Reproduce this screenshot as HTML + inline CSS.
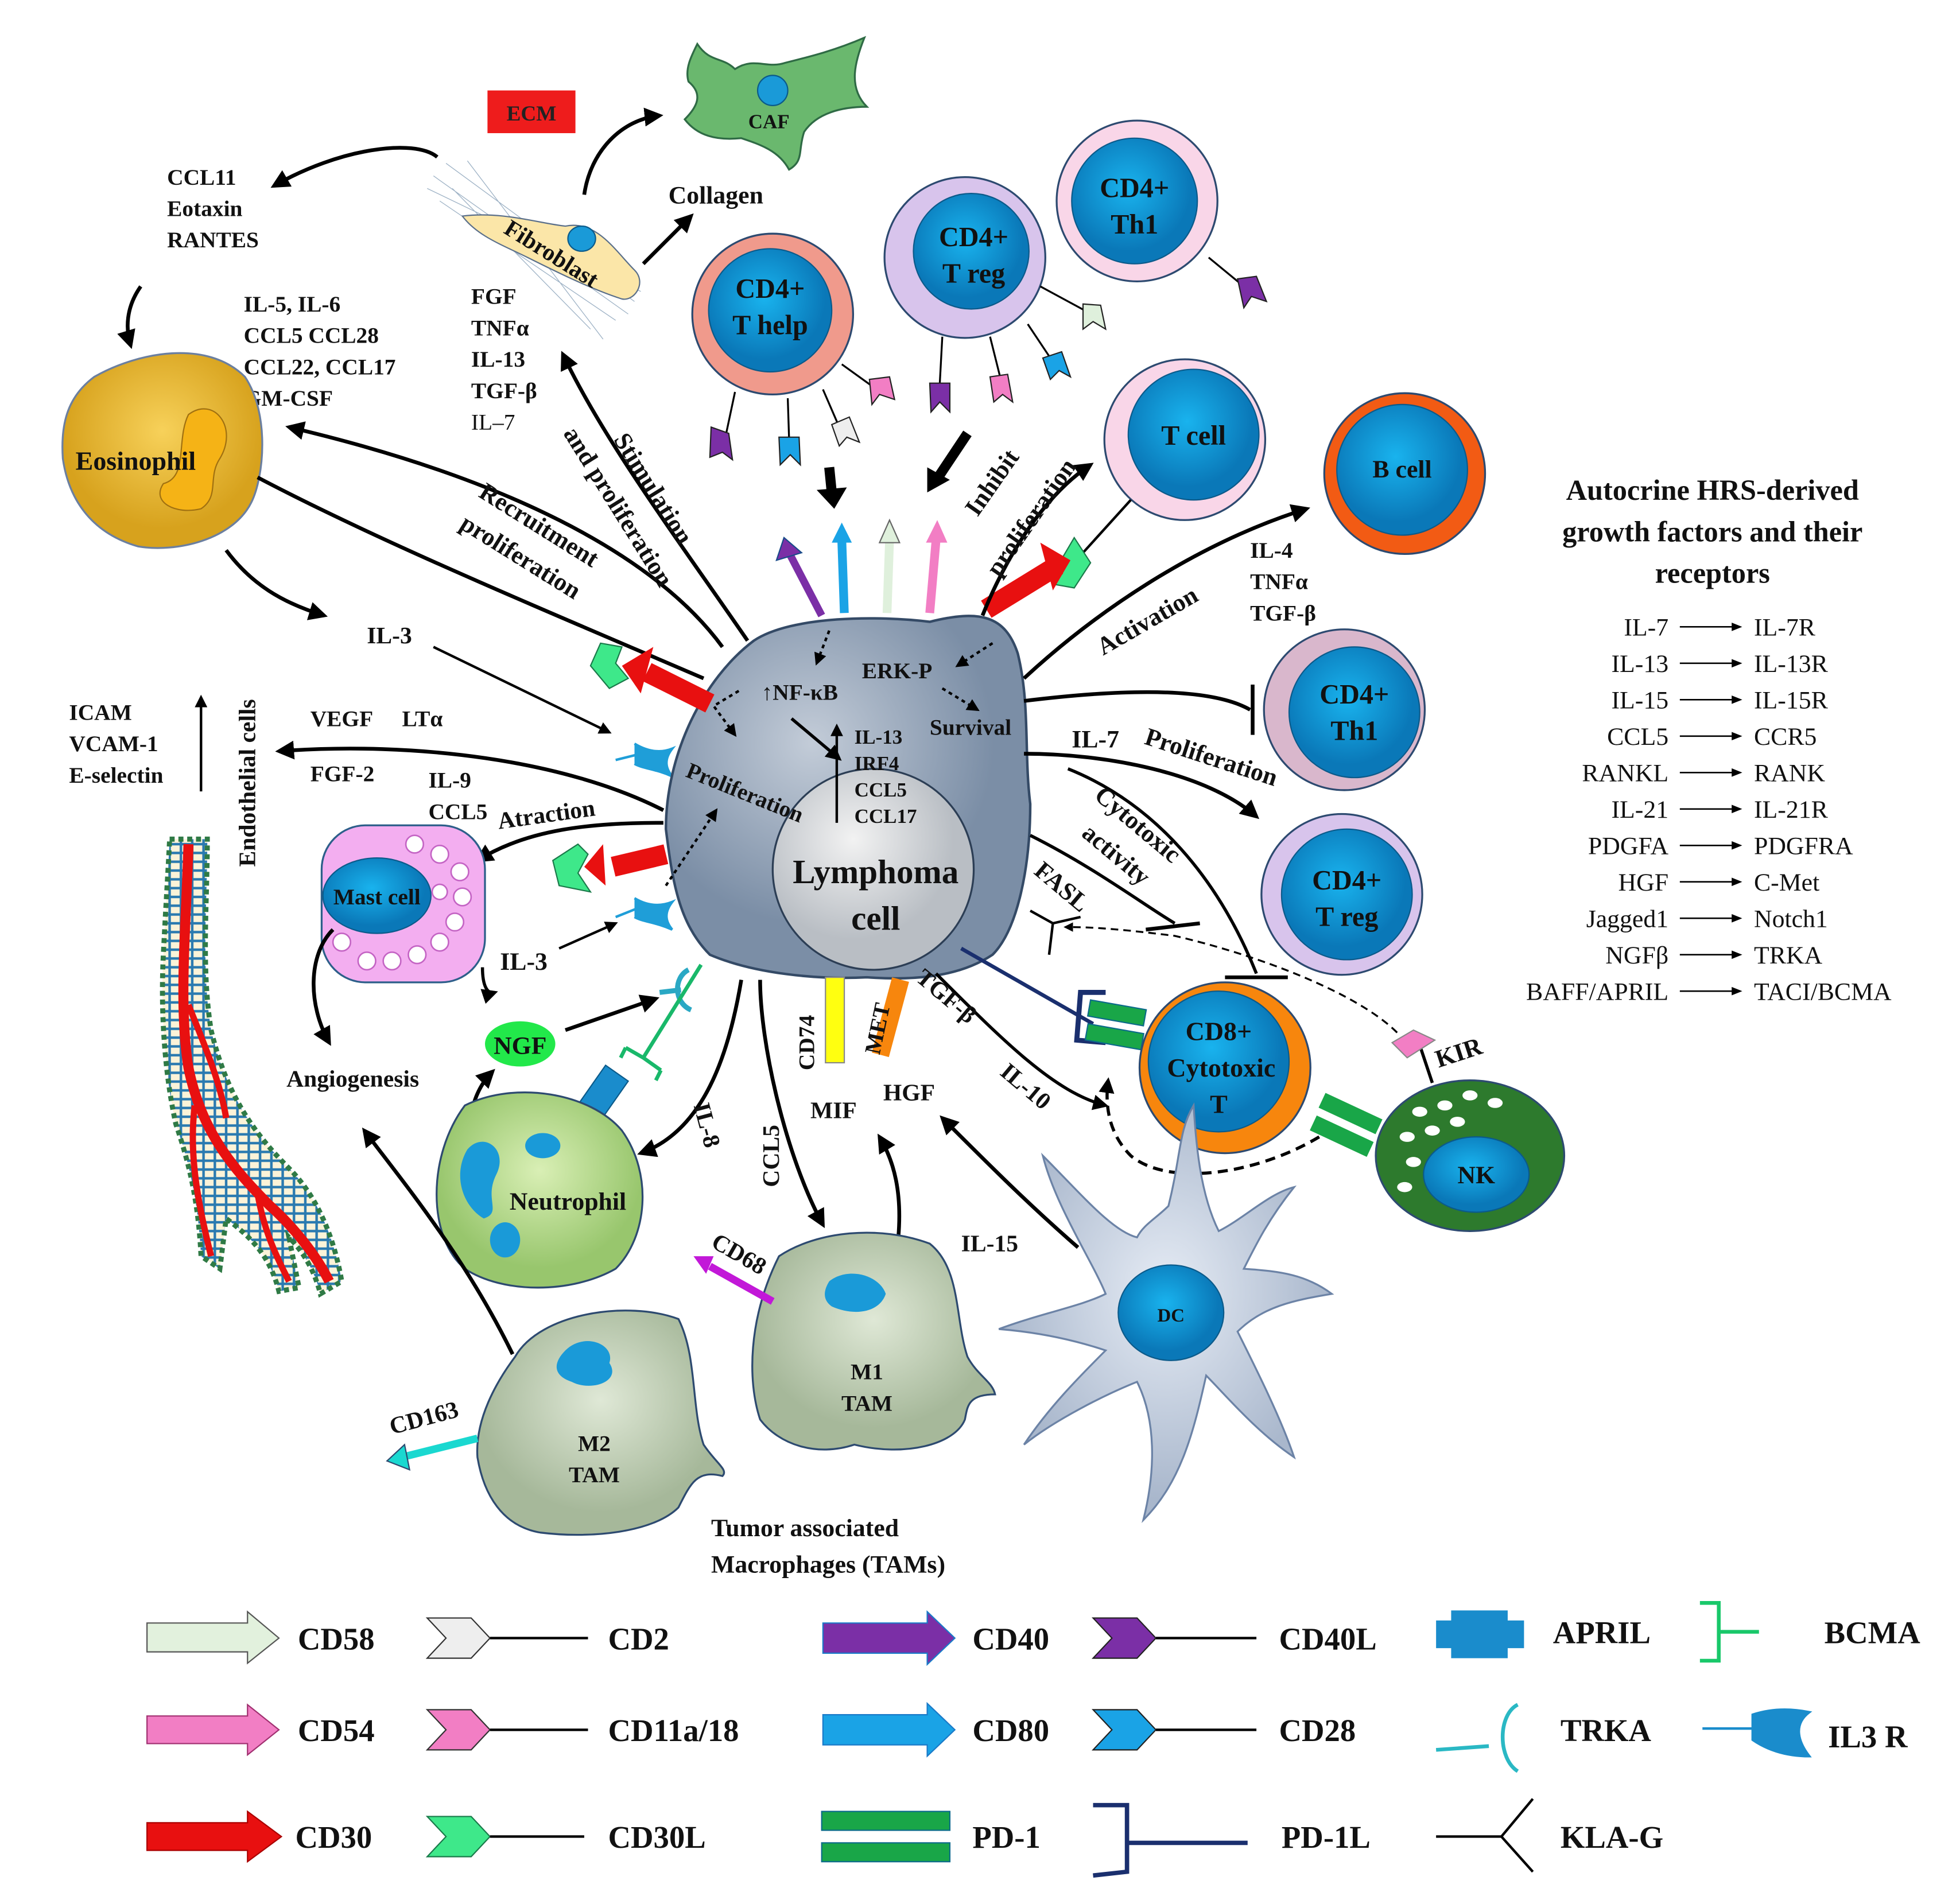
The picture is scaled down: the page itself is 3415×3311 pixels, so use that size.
<!DOCTYPE html>
<html><head><meta charset="utf-8"><style>
html,body{margin:0;padding:0;background:#fff}
svg{display:block}
text{font-family:"Liberation Serif",serif;font-weight:bold;fill:#111}
.n{font-weight:normal}
</style></head><body>
<svg width="3415" height="3311" viewBox="0 0 1560 1512.5" preserveAspectRatio="none" xmlns="http://www.w3.org/2000/svg">
<defs>
<marker id="ah" viewBox="0 0 10 10" refX="8" refY="5" markerWidth="5" markerHeight="5" orient="auto"><path d="M0,0L10,5L0,10z" fill="#000"/></marker>
<marker id="as" viewBox="0 0 10 10" refX="8" refY="5" markerWidth="7" markerHeight="7" orient="auto"><path d="M0,1L10,5L0,9z" fill="#000"/></marker>
<radialGradient id="lym" cx="0.4" cy="0.35"><stop offset="0" stop-color="#c3ccd8"/><stop offset="1" stop-color="#7b8ea6"/></radialGradient>
<radialGradient id="nuc" cx="0.4" cy="0.35"><stop offset="0" stop-color="#f2f2f2"/><stop offset="1" stop-color="#b9bec4"/></radialGradient>
<radialGradient id="blu" cx="0.45" cy="0.4"><stop offset="0" stop-color="#19b3ee"/><stop offset="1" stop-color="#0a78b8"/></radialGradient>
<radialGradient id="eos" cx="0.5" cy="0.4"><stop offset="0" stop-color="#f7d15a"/><stop offset="1" stop-color="#d7a21d"/></radialGradient>
<radialGradient id="neu" cx="0.5" cy="0.4"><stop offset="0" stop-color="#d9efb5"/><stop offset="1" stop-color="#98c66d"/></radialGradient>
<radialGradient id="mac" cx="0.5" cy="0.4"><stop offset="0" stop-color="#dfe8d6"/><stop offset="1" stop-color="#a6b89a"/></radialGradient>
<radialGradient id="dc" cx="0.5" cy="0.45"><stop offset="0" stop-color="#e6ecf5"/><stop offset="1" stop-color="#a9b7cc"/></radialGradient>
<pattern id="cells" width="9" height="7" patternUnits="userSpaceOnUse"><rect width="9" height="7" fill="#fbf3d8"/><rect x="0.5" y="0.5" width="8" height="6" fill="none" stroke="#2a7ab0" stroke-width="1"/></pattern>
</defs>

<!-- ECM & CAF & Fibroblast -->
<rect x="388" y="72" width="70" height="34" fill="#ee1c1c"/>
<text x="423" y="96" text-anchor="middle" font-size="17" style="fill:#222">ECM</text>
<path d="M555,35 C565,50 575,45 585,55 C600,45 610,55 625,50 C645,45 665,40 688,30 C680,50 675,70 690,85 C670,85 650,90 640,105 C635,120 640,128 628,135 C620,120 605,115 590,110 C570,112 555,108 545,95 C555,85 560,75 548,65 C545,55 550,45 555,35z" fill="#6ab86e" stroke="#2f6b45" stroke-width="1.5"/>
<circle cx="615" cy="72" r="12" fill="#1a9ad8" stroke="#0b5a8a"/>
<text x="612" y="102" text-anchor="middle" font-size="16">CAF</text>
<g stroke="#9fb3c6" stroke-width="0.6">
<path d="M345,140 L500,250 M355,130 L505,240 M360,150 L470,262 M350,160 L490,255 M372,128 L480,270 M340,150 L510,232"/>
</g>
<path d="M368,172 C400,168 430,178 450,180 C475,175 490,200 505,215 C515,225 505,240 495,238 C470,230 440,215 420,205 C400,195 380,188 368,172z" fill="#fbe6a8" stroke="#5a6f8a"/>
<ellipse cx="463" cy="190" rx="11" ry="10" fill="#1a9ad8" stroke="#0b5a8a"/>
<text x="400" y="185" font-size="19" transform="rotate(32 400 185)">Fibroblast</text>
<path d="M465,155 C470,120 495,95 525,92" fill="none" stroke="#000" stroke-width="3" marker-end="url(#ah)"/>
<path d="M512,210 L550,172" stroke="#000" stroke-width="3" marker-end="url(#ah)"/>
<text x="532" y="162" font-size="20">Collagen</text>
<path d="M348,125 C330,110 270,118 218,148" fill="none" stroke="#000" stroke-width="3" marker-end="url(#ah)"/>
<text x="133" y="147" font-size="18">CCL11</text>
<text x="133" y="172" font-size="18">Eotaxin</text>
<text x="133" y="197" font-size="18">RANTES</text>
<path d="M112,228 C100,245 100,262 104,275" fill="none" stroke="#000" stroke-width="3" marker-end="url(#ah)"/>
<text x="194" y="248" font-size="18">IL-5, IL-6</text>
<text x="194" y="273" font-size="18">CCL5 CCL28</text>
<text x="194" y="298" font-size="18">CCL22, CCL17</text>
<text x="194" y="323" font-size="18">GM-CSF</text>
<text x="375" y="242" font-size="18">FGF</text>
<text x="375" y="267" font-size="18">TNFα</text>
<text x="375" y="292" font-size="18">IL-13</text>
<text x="375" y="317" font-size="18">TGF-β</text>
<text x="375" y="342" font-size="18" style="font-weight:normal">IL–7</text>

<!-- Eosinophil -->
<path d="M75,300 C110,280 165,270 195,300 C215,330 210,380 200,400 C185,430 140,440 110,435 C75,425 55,400 50,365 C48,335 55,315 75,300z" fill="url(#eos)" stroke="#6b7fa0" stroke-width="1.5"/>
<path d="M150,330 C170,315 190,340 175,365 C165,380 175,395 160,405 C140,410 120,400 130,385 C150,380 140,350 150,330z" fill="#f5b316" stroke="#a07010"/>
<text x="108" y="374" text-anchor="middle" font-size="21">Eosinophil</text>

<!-- arrows from lymphoma -->
<path d="M575,515 C520,440 400,380 230,340" fill="none" stroke="#000" stroke-width="3" marker-end="url(#ah)"/>
<path d="M595,510 C540,430 480,350 448,282" fill="none" stroke="#000" stroke-width="3" marker-end="url(#ah)"/>
<path d="M205,380 C300,430 420,480 560,540" fill="none" stroke="#000" stroke-width="3"/>
<text x="380" y="395" font-size="20" transform="rotate(32 380 395)">Recruitment</text>
<text x="365" y="420" font-size="20" transform="rotate(32 365 420)">proliferation</text>
<text x="488" y="350" font-size="20" transform="rotate(58 488 350)">Stimulation</text>
<text x="448" y="345" font-size="20" transform="rotate(58 448 345)">and proliferation</text>
<path d="M180,438 C200,465 225,480 258,490" fill="none" stroke="#000" stroke-width="3" marker-end="url(#ah)"/>
<text x="292" y="512" font-size="19">IL-3</text>
<path d="M345,515 L485,583" stroke="#000" stroke-width="2" marker-end="url(#ah)"/>

<!-- endothelial -->
<text x="55" y="573" font-size="18">ICAM</text>
<text x="55" y="598" font-size="18">VCAM-1</text>
<text x="55" y="623" font-size="18">E-selectin</text>
<path d="M160,630 L160,555" stroke="#000" stroke-width="2" marker-end="url(#ah)"/>
<text x="203" y="690" font-size="19" transform="rotate(-90 203 690)">Endothelial cells</text>
<path d="M135,668 L165,668 C165,720 160,770 168,820 C180,870 200,900 230,930 C250,950 265,980 272,1020 L255,1030 C250,1010 240,995 230,985 L238,1025 L222,1028 C215,1000 200,985 180,970 L175,1010 L160,1000 C158,960 152,930 140,895 C130,850 128,800 130,760 C132,720 134,690 135,668z" fill="url(#cells)" stroke="#2f7a45" stroke-width="4" stroke-dasharray="4 3"/>
<path d="M150,672 C148,740 142,800 150,850 C160,900 185,930 215,960 C235,978 252,1000 262,1020" fill="none" stroke="#e81010" stroke-width="8"/>
<path d="M150,800 C162,830 175,860 180,890 M155,880 C150,920 158,960 168,1000 M205,950 C210,980 220,1000 230,1020" fill="none" stroke="#e81010" stroke-width="5"/>
<text x="247" y="578" font-size="18">VEGF</text><text x="320" y="578" font-size="18">LTα</text>
<text x="247" y="622" font-size="18">FGF-2</text>
<path d="M528,645 C450,605 330,590 222,598" fill="none" stroke="#000" stroke-width="3" marker-end="url(#ah)"/>
<text x="341" y="627" font-size="18">IL-9</text>
<text x="341" y="652" font-size="18">CCL5</text>
<text x="397" y="660" font-size="19" transform="rotate(-8 397 660)">Atraction</text>
<path d="M528,655 C470,655 420,660 380,685" fill="none" stroke="#000" stroke-width="3" marker-end="url(#ah)"/>

<!-- Mast cell -->
<rect x="256" y="657" width="130" height="125" rx="35" fill="#f3aef0" stroke="#2d5f8a" stroke-width="1.5"/>
<g fill="#fff" stroke="#c464c4" stroke-width="1.2">
<circle cx="330" cy="672" r="7"/><circle cx="350" cy="680" r="7"/><circle cx="366" cy="694" r="7"/><circle cx="368" cy="714" r="7"/><circle cx="362" cy="734" r="7"/><circle cx="350" cy="750" r="7"/><circle cx="332" cy="760" r="7"/><circle cx="312" cy="765" r="7"/><circle cx="292" cy="765" r="7"/><circle cx="272" cy="750" r="7"/><circle cx="350" cy="710" r="6"/>
</g>
<ellipse cx="300" cy="713" rx="43" ry="30" fill="url(#blu)" stroke="#0b5a8a"/>
<text x="300" y="720" text-anchor="middle" font-size="18">Mast cell</text>
<path d="M384,770 C384,785 388,792 394,790" fill="none" stroke="#000" stroke-width="2.5" marker-end="url(#ah)"/>
<text x="398" y="772" font-size="20">IL-3</text>
<path d="M445,755 L490,735" stroke="#000" stroke-width="2" marker-end="url(#ah)"/>
<path d="M265,740 C245,760 245,800 262,830" fill="none" stroke="#000" stroke-width="3" marker-end="url(#ah)"/>
<text x="228" y="865" font-size="19">Angiogenesis</text>

<!-- IL3R icons on lymphoma -->
<path d="M490,605 L510,600 M505,592 C515,598 525,600 535,596 C528,605 530,612 535,618 C522,612 512,612 505,608" fill="#1f9ed8" stroke="#1f9ed8" stroke-width="2"/>
<path d="M490,730 L510,722 M505,715 C515,721 525,722 535,718 C528,727 530,734 535,740 C522,734 512,734 505,730" fill="#1f9ed8" stroke="#1f9ed8" stroke-width="2"/>
<path d="M525,790 L542,788 M548,772 C536,778 536,798 550,804" fill="none" stroke="#2aa8c4" stroke-width="4"/>

<!-- Lymphoma cell -->
<path d="M600,510 C630,490 700,490 740,495 C780,485 800,490 810,520 C820,560 815,600 820,640 C820,690 810,740 790,760 C760,780 720,780 690,778 C650,780 600,775 565,760 C540,735 535,700 530,660 C530,600 560,540 600,510z" fill="url(#lym)" stroke="#344a66" stroke-width="2"/>
<circle cx="695" cy="692" r="80" fill="url(#nuc)" stroke="#2c3e55" stroke-width="1.5"/>
<text x="697" y="703" text-anchor="middle" font-size="27">Lymphoma</text>
<text x="697" y="740" text-anchor="middle" font-size="27">cell</text>
<text x="606" y="557" font-size="18">↑NF-κB</text>
<text x="686" y="540" font-size="18">ERK-P</text>
<text x="740" y="585" font-size="18">Survival</text>
<text x="545" y="618" font-size="18" transform="rotate(22 545 618)">Proliferation</text>
<text x="680" y="592" font-size="16">IL-13</text>
<text x="680" y="613" font-size="16">IRF4</text>
<text x="680" y="634" font-size="16">CCL5</text>
<text x="680" y="655" font-size="16">CCL17</text>
<path d="M666,655 L666,578" stroke="#000" stroke-width="2" marker-end="url(#ah)"/>
<path d="M630,572 L668,604" stroke="#000" stroke-width="2.5" marker-end="url(#ah)"/>
<g fill="none" stroke="#000" stroke-width="2" stroke-dasharray="3 3">
<path d="M660,502 L650,528" marker-end="url(#ah)"/><path d="M588,550 L568,562 L585,585" marker-end="url(#ah)"/>
<path d="M530,705 L570,645" marker-end="url(#ah)"/><path d="M790,512 L762,530" marker-end="url(#ah)"/><path d="M750,548 L778,565" marker-end="url(#ah)"/>
</g>

<!-- surface arrows top -->
<path d="M654,490 L628,440" stroke="#7b2fa6" stroke-width="6"/><path d="M618,446 L624,428 L638,440z" fill="#7b2fa6" stroke="#1a4b8a"/>
<path d="M672,488 L670,430" stroke="#1aa3e6" stroke-width="7"/><path d="M662,432 L670,416 L678,432z" fill="#1aa3e6"/>
<path d="M706,488 L708,430" stroke="#dff0dc" stroke-width="7"/><path d="M700,432 L708,414 L716,432z" fill="#dff0dc" stroke="#666"/>
<path d="M740,488 L745,430" stroke="#f27ec4" stroke-width="7"/><path d="M737,432 L746,414 L754,432z" fill="#f27ec4"/>
<path d="M660,372 L662,392" stroke="#000" stroke-width="8"/><path d="M650,390 L664,405 L674,388z" fill="#000"/>
<path d="M770,345 L748,378" stroke="#000" stroke-width="8"/><path d="M738,372 L738,392 L756,382z" fill="#000"/>

<!-- T help -->
<circle cx="615" cy="250" r="64" fill="#f09a8c" stroke="#2d4a70" stroke-width="1.5"/>
<circle cx="613" cy="247" r="49" fill="url(#blu)" stroke="#0b5a8a"/>
<text x="613" y="237" text-anchor="middle" font-size="22">CD4+</text>
<text x="613" y="266" text-anchor="middle" font-size="22">T help</text>
<g stroke="#000" stroke-width="1.5">
<path d="M585,312 L578,345"/><path d="M627,317 L628,348"/><path d="M655,310 L668,340"/><path d="M670,290 L695,308"/>
</g>
<path d="M566,340 L580,345 L583,366 L575,360 L565,364z" fill="#7b2fa6" stroke="#222"/>
<path d="M620,348 L636,348 L637,370 L629,362 L621,370z" fill="#1aa3e6" stroke="#222"/>
<path d="M662,338 L676,332 L684,352 L674,348 L668,355z" fill="#eee" stroke="#222"/>
<path d="M692,302 L708,300 L712,318 L700,314 L694,322z" fill="#f27ec4" stroke="#222"/>

<!-- T reg top -->
<circle cx="768" cy="205" r="64" fill="#d8c4ec" stroke="#2d4a70" stroke-width="1.5"/>
<circle cx="773" cy="200" r="46" fill="url(#blu)" stroke="#0b5a8a"/>
<text x="775" y="196" text-anchor="middle" font-size="22">CD4+</text>
<text x="775" y="225" text-anchor="middle" font-size="22">T reg</text>
<g stroke="#000" stroke-width="1.5"><path d="M750,268 L748,305"/><path d="M788,268 L796,300"/><path d="M818,258 L836,285"/><path d="M828,228 L865,248"/></g>
<path d="M740,305 L756,305 L756,328 L748,320 L741,328z" fill="#7b2fa6" stroke="#222"/>
<path d="M788,300 L802,298 L806,320 L798,314 L791,320z" fill="#f27ec4" stroke="#222"/>
<path d="M830,285 L845,280 L852,300 L843,295 L836,302z" fill="#1aa3e6" stroke="#222"/>
<path d="M862,242 L876,243 L880,262 L870,256 L862,262z" fill="#dff0dc" stroke="#222"/>

<!-- Th1 top -->
<circle cx="905" cy="160" r="64" fill="#f9d6e8" stroke="#2d4a70" stroke-width="1.5"/>
<circle cx="903" cy="160" r="50" fill="url(#blu)" stroke="#0b5a8a"/>
<text x="903" y="157" text-anchor="middle" font-size="22">CD4+</text>
<text x="903" y="186" text-anchor="middle" font-size="22">Th1</text>
<path d="M962,205 L990,228" stroke="#000" stroke-width="1.5"/>
<path d="M985,222 L1000,220 L1008,240 L996,236 L990,245z" fill="#7b2fa6" stroke="#222"/>

<!-- T cell -->
<circle cx="943" cy="350" r="64" fill="#f9d6e8" stroke="#2d4a70" stroke-width="1.5"/>
<circle cx="950" cy="346" r="52" fill="url(#blu)" stroke="#0b5a8a"/>
<text x="950" y="354" text-anchor="middle" font-size="22">T cell</text>
<path d="M900,398 L862,440" stroke="#000" stroke-width="2"/>
<path d="M845,445 L855,428 L868,448 L855,468 L838,465z" fill="#3ee88a" stroke="#1a7a4a"/>
<path d="M785,485 L842,450" stroke="#e81010" stroke-width="16"/><path d="M828,432 L852,446 L838,470 Z" fill="#e81010"/>
<path d="M782,490 C800,445 830,395 868,370" fill="none" stroke="#000" stroke-width="3" marker-end="url(#ah)"/>
<text x="778" y="412" font-size="20" transform="rotate(-55 778 412)">Inhibit</text>
<text x="795" y="460" font-size="20" transform="rotate(-55 795 460)">proliferation</text>

<!-- B cell -->
<circle cx="1118" cy="377" r="64" fill="#f25b14" stroke="#2d4a70" stroke-width="1.5"/>
<circle cx="1116" cy="374" r="52" fill="url(#blu)" stroke="#0b5a8a"/>
<text x="1116" y="380" text-anchor="middle" font-size="20">B cell</text>
<path d="M815,540 C880,480 960,430 1040,405" fill="none" stroke="#000" stroke-width="3" marker-end="url(#ah)"/>
<text x="878" y="522" font-size="20" transform="rotate(-30 878 522)">Activation</text>
<text x="995" y="444" font-size="18">IL-4</text>
<text x="995" y="469" font-size="18">TNFα</text>
<text x="995" y="494" font-size="18">TGF-β</text>

<!-- Th1 right -->
<circle cx="1070" cy="565" r="64" fill="#d9b7cc" stroke="#2d4a70" stroke-width="1.5"/>
<circle cx="1078" cy="567" r="52" fill="url(#blu)" stroke="#0b5a8a"/>
<text x="1078" y="560" text-anchor="middle" font-size="22">CD4+</text>
<text x="1078" y="589" text-anchor="middle" font-size="22">Th1</text>
<path d="M815,558 C880,550 960,545 995,565" fill="none" stroke="#000" stroke-width="3"/>
<path d="M997,545 L997,585" stroke="#000" stroke-width="3"/>
<!-- T reg right -->
<circle cx="1068" cy="712" r="64" fill="#d8c4ec" stroke="#2d4a70" stroke-width="1.5"/>
<circle cx="1072" cy="712" r="52" fill="url(#blu)" stroke="#0b5a8a"/>
<text x="1072" y="708" text-anchor="middle" font-size="22">CD4+</text>
<text x="1072" y="737" text-anchor="middle" font-size="22">T reg</text>
<path d="M815,600 C880,600 960,615 1000,650" fill="none" stroke="#000" stroke-width="3" marker-end="url(#ah)"/>
<text x="853" y="595" font-size="20">IL-7</text>
<text x="910" y="592" font-size="20" transform="rotate(18 910 592)">Proliferation</text>

<!-- cytotoxic etc -->
<path d="M850,612 C920,640 970,700 1000,775" fill="none" stroke="#000" stroke-width="2.5"/>
<path d="M975,778 L1025,778" stroke="#000" stroke-width="3"/>
<path d="M820,665 C870,690 910,720 935,735" fill="none" stroke="#000" stroke-width="2.5"/>
<path d="M912,740 L955,735" stroke="#000" stroke-width="3"/>
<text x="870" y="635" font-size="20" transform="rotate(40 870 635)">Cytotoxic</text>
<text x="860" y="665" font-size="20" transform="rotate(40 860 665)">activity</text>
<text x="822" y="695" font-size="20" transform="rotate(40 822 695)">FASL</text>
<path d="M820,725 L838,735 L835,760 M838,735 L860,730" fill="none" stroke="#000" stroke-width="2"/>
<path d="M1112,822 C1080,790 1000,760 935,745 C880,738 860,738 848,738" fill="none" stroke="#000" stroke-width="1.5" stroke-dasharray="6 4" marker-end="url(#ah)"/>

<!-- CD8 -->
<path d="M765,755 L870,815" stroke="#1a2f6e" stroke-width="3"/>
<path d="M880,790 L860,790 L857,828 L880,830" fill="none" stroke="#1a2f6e" stroke-width="4"/>
<rect x="868" y="796" width="45" height="13" fill="#19a648" stroke="#0b6a8a" transform="rotate(10 868 796)"/>
<rect x="866" y="815" width="45" height="13" fill="#19a648" stroke="#0b6a8a" transform="rotate(10 866 815)"/>
<circle cx="975" cy="850" r="68" fill="#f7860d" stroke="#2d4a70" stroke-width="1.5"/>
<circle cx="970" cy="845" r="56" fill="url(#blu)" stroke="#0b5a8a"/>
<text x="970" y="828" text-anchor="middle" font-size="21">CD8+</text>
<text x="972" y="857" text-anchor="middle" font-size="21">Cytotoxic</text>
<text x="970" y="886" text-anchor="middle" font-size="21">T</text>
<path d="M745,775 C800,830 840,870 880,880" fill="none" stroke="#000" stroke-width="2.5" marker-end="url(#ah)"/>
<path d="M1050,905 C1000,935 930,945 900,920 C880,900 880,875 882,860" fill="none" stroke="#000" stroke-width="2.5" stroke-dasharray="8 5" marker-end="url(#ah)"/>
<text x="728" y="780" font-size="19" transform="rotate(40 728 780)">TGF-β</text>
<text x="795" y="855" font-size="19" transform="rotate(40 795 855)">IL-10</text>

<!-- NK -->
<ellipse cx="1170" cy="920" rx="75" ry="60" fill="#2d7a2d" stroke="#2d4a70" stroke-width="1.5"/>
<ellipse cx="1175" cy="935" rx="42" ry="30" fill="url(#blu)" stroke="#0b5a8a"/>
<text x="1175" y="942" text-anchor="middle" font-size="20">NK</text>
<g fill="#fff"><ellipse cx="1130" cy="885" rx="6" ry="4"/><ellipse cx="1150" cy="880" rx="6" ry="4"/><ellipse cx="1170" cy="872" rx="6" ry="4"/><ellipse cx="1190" cy="878" rx="6" ry="4"/><ellipse cx="1120" cy="905" rx="6" ry="4"/><ellipse cx="1140" cy="900" rx="6" ry="4"/><ellipse cx="1160" cy="893" rx="6" ry="4"/><ellipse cx="1125" cy="925" rx="6" ry="4"/><ellipse cx="1118" cy="945" rx="6" ry="4"/></g>
<rect x="1055" y="870" width="50" height="13" fill="#19a648" transform="rotate(25 1055 870)"/>
<rect x="1048" y="888" width="50" height="13" fill="#19a648" transform="rotate(25 1048 888)"/>
<path d="M1140,862 L1130,832" stroke="#000" stroke-width="2.5"/>
<path d="M1108,830 L1125,820 L1142,828 L1120,842z" fill="#f27ec4" stroke="#888"/>
<text x="1145" y="850" font-size="20" transform="rotate(-18 1145 850)">KIR</text>

<!-- bottom labels -->
<rect x="657" y="778" width="15" height="68" fill="#ffff10" stroke="#888"/>
<rect x="710" y="778" width="14" height="62" fill="#f7860d" transform="rotate(15 710 778)"/>
<text x="648" y="852" font-size="18" transform="rotate(-90 648 852)">CD74</text>
<text x="700" y="840" font-size="18" transform="rotate(-78 700 840)">MET</text>
<text x="645" y="890" font-size="19">MIF</text>
<text x="703" y="876" font-size="19">HGF</text>
<path d="M605,780 C605,830 625,920 655,975" fill="none" stroke="#000" stroke-width="3" marker-end="url(#ah)"/>
<text x="620" y="945" font-size="19" transform="rotate(-90 620 945)">CCL5</text>
<path d="M715,985 C718,950 712,925 700,905" fill="none" stroke="#000" stroke-width="3" marker-end="url(#ah)"/>
<path d="M858,993 C820,960 790,930 750,890" fill="none" stroke="#000" stroke-width="3" marker-end="url(#ah)"/>
<text x="765" y="996" font-size="19">IL-15</text>
<path d="M590,780 C580,840 560,900 510,918" fill="none" stroke="#000" stroke-width="3" marker-end="url(#ah)"/>
<text x="552" y="880" font-size="19" transform="rotate(75 552 880)">IL-8</text>

<!-- NGF & Neutrophil -->
<ellipse cx="414" cy="831" rx="28" ry="18" fill="#22e84a"/>
<text x="414" y="839" text-anchor="middle" font-size="20">NGF</text>
<path d="M450,820 L522,795" stroke="#000" stroke-width="3" marker-end="url(#ah)"/>
<path d="M375,905 C372,885 380,865 392,853" fill="none" stroke="#000" stroke-width="3" marker-end="url(#ah)"/>
<path d="M558,768 L512,842" stroke="#19b86a" stroke-width="3"/>
<path d="M498,834 L512,842 L526,852 M498,834 L494,842 M526,852 L522,860" fill="none" stroke="#19b86a" stroke-width="3"/>
<rect x="482" y="848" width="22" height="42" fill="#1a8ccc" stroke="#0b5a8a" transform="rotate(35 482 848)"/>
<path d="M370,880 C410,860 470,870 495,900 C520,935 515,985 490,1010 C455,1030 400,1030 370,1010 C340,985 340,920 370,880z" fill="url(#neu)" stroke="#2d4a70" stroke-width="1.5"/>
<path d="M372,915 C385,900 405,915 395,935 C385,955 400,965 385,970 C368,960 360,935 372,915z" fill="#1a9ad8"/>
<ellipse cx="432" cy="912" rx="14" ry="10" fill="#1a9ad8"/>
<ellipse cx="402" cy="987" rx="12" ry="14" fill="#1a9ad8"/>
<text x="452" y="963" text-anchor="middle" font-size="20">Neutrophil</text>

<!-- M2 TAM -->
<path d="M410,1080 C430,1045 500,1035 540,1050 C555,1080 550,1120 560,1150 C570,1165 580,1170 575,1175 C555,1170 550,1180 540,1200 C520,1220 470,1225 430,1220 C400,1215 385,1190 380,1160 C378,1130 395,1100 410,1080z" fill="url(#mac)" stroke="#2d4a70" stroke-width="1.5"/>
<path d="M450,1075 C465,1060 490,1070 485,1085 C495,1100 470,1108 455,1100 C440,1095 440,1085 450,1075z" fill="#1a9ad8"/>
<text x="473" y="1155" text-anchor="middle" font-size="18">M2</text>
<text x="473" y="1180" text-anchor="middle" font-size="18">TAM</text>
<path d="M380,1145 L320,1160" stroke="#1ad8d0" stroke-width="6"/><path d="M322,1150 L308,1163 L326,1170z" fill="#1ad8d0" stroke="#2d4a70"/>
<text x="312" y="1142" font-size="19" transform="rotate(-15 312 1142)">CD163</text>
<path d="M408,1078 C370,1000 320,940 290,900" fill="none" stroke="#000" stroke-width="3" marker-end="url(#ah)"/>
<!-- M1 TAM -->
<path d="M620,1000 C650,980 700,975 740,990 C765,1010 760,1050 770,1080 C778,1095 790,1100 792,1110 C770,1110 770,1120 768,1130 C760,1150 720,1160 680,1150 C650,1160 620,1150 605,1130 C595,1100 595,1050 620,1000z" fill="url(#mac)" stroke="#2d4a70" stroke-width="1.5"/>
<path d="M660,1020 C675,1008 700,1015 705,1030 C700,1045 680,1048 662,1040 C655,1035 655,1028 660,1020z" fill="#1a9ad8"/>
<text x="690" y="1098" text-anchor="middle" font-size="18">M1</text>
<text x="690" y="1123" text-anchor="middle" font-size="18">TAM</text>
<path d="M615,1036 L565,1008" stroke="#c218d8" stroke-width="6"/><path d="M568,1000 L552,1000 L562,1014z" fill="#c218d8"/>
<text x="565" y="992" font-size="19" transform="rotate(30 565 992)">CD68</text>
<text x="566" y="1223" font-size="20">Tumor associated</text>
<text x="566" y="1252" font-size="20">Macrophages (TAMs)</text>

<!-- DC -->
<path d="M930,960 C940,920 938,900 950,880 C952,910 955,950 970,980 C990,970 1010,950 1030,945 C1010,970 1000,990 990,1010 C1020,1012 1040,1015 1060,1030 C1030,1035 1005,1040 985,1060 C1000,1090 1020,1130 1030,1160 C1000,1140 975,1110 960,1095 C950,1140 940,1180 910,1210 C920,1170 920,1130 905,1100 C880,1110 840,1130 815,1150 C835,1120 860,1095 880,1075 C850,1065 820,1060 795,1058 C830,1045 860,1040 880,1030 C870,1005 840,960 830,920 C860,950 885,980 905,985 C910,975 920,970 930,960z" fill="url(#dc)" stroke="#6c83a6" stroke-width="1.5"/>
<ellipse cx="932" cy="1045" rx="42" ry="38" fill="url(#blu)" stroke="#0b5a8a"/>
<text x="932" y="1052" text-anchor="middle" font-size="15">DC</text>

<!-- big red arrows CD30 left -->
<path d="M565,560 L515,535" stroke="#e81010" stroke-width="16"/><path d="M520,515 L495,530 L510,552z" fill="#e81010"/>
<path d="M495,515 L478,512 L470,530 L485,548 L500,540 L490,528z" fill="#3ee88a" stroke="#1a7a4a"/>
<path d="M530,680 L488,690" stroke="#e81010" stroke-width="16"/><path d="M480,672 L465,690 L482,705z" fill="#e81010"/>
<path d="M460,672 L440,685 L445,705 L470,710 L460,695 L468,680z" fill="#3ee88a" stroke="#1a7a4a"/>

<!-- Autocrine block -->
<text x="1363" y="398" text-anchor="middle" font-size="23">Autocrine HRS-derived</text>
<text x="1363" y="431" text-anchor="middle" font-size="23">growth factors and their</text>
<text x="1363" y="464" text-anchor="middle" font-size="23">receptors</text>
<g font-size="20">
<text x="1328" y="506" text-anchor="end" class="n">IL-7</text><text x="1396" y="506" class="n">IL-7R</text>
<text x="1328" y="535" text-anchor="end" class="n">IL-13</text><text x="1396" y="535" class="n">IL-13R</text>
<text x="1328" y="564" text-anchor="end" class="n">IL-15</text><text x="1396" y="564" class="n">IL-15R</text>
<text x="1328" y="593" text-anchor="end" class="n">CCL5</text><text x="1396" y="593" class="n">CCR5</text>
<text x="1328" y="622" text-anchor="end" class="n">RANKL</text><text x="1396" y="622" class="n">RANK</text>
<text x="1328" y="651" text-anchor="end" class="n">IL-21</text><text x="1396" y="651" class="n">IL-21R</text>
<text x="1328" y="680" text-anchor="end" class="n">PDGFA</text><text x="1396" y="680" class="n">PDGFRA</text>
<text x="1328" y="709" text-anchor="end" class="n">HGF</text><text x="1396" y="709" class="n">C-Met</text>
<text x="1328" y="738" text-anchor="end" class="n">Jagged1</text><text x="1396" y="738" class="n">Notch1</text>
<text x="1328" y="767" text-anchor="end" class="n">NGFβ</text><text x="1396" y="767" class="n">TRKA</text>
<text x="1328" y="796" text-anchor="end" class="n">BAFF/APRIL</text><text x="1396" y="796" class="n">TACI/BCMA</text>
</g>
<g stroke="#000" stroke-width="1.2">
<path d="M1337,499 L1385,499" marker-end="url(#as)"/><path d="M1337,528 L1385,528" marker-end="url(#as)"/><path d="M1337,557 L1385,557" marker-end="url(#as)"/><path d="M1337,586 L1385,586" marker-end="url(#as)"/><path d="M1337,615 L1385,615" marker-end="url(#as)"/><path d="M1337,644 L1385,644" marker-end="url(#as)"/><path d="M1337,673 L1385,673" marker-end="url(#as)"/><path d="M1337,702 L1385,702" marker-end="url(#as)"/><path d="M1337,731 L1385,731" marker-end="url(#as)"/><path d="M1337,760 L1385,760" marker-end="url(#as)"/><path d="M1337,789 L1385,789" marker-end="url(#as)"/>
</g>

<!-- Legend -->
<g font-size="25">
<path d="M117,1292 L197,1292 L197,1283 L222,1304 L197,1324 L197,1315 L117,1315z" fill="#e2f1dd" stroke="#555"/>
<text x="237" y="1313">CD58</text>
<path d="M340,1288 L375,1288 L390,1304 L375,1320 L340,1320 L355,1304z" fill="#eee" stroke="#333"/><path d="M390,1304 L468,1304" stroke="#000" stroke-width="2"/>
<text x="484" y="1313">CD2</text>
<path d="M655,1292 L738,1292 L738,1283 L760,1304 L738,1325 L738,1316 L655,1316z" fill="#7b2fa6" stroke="#1a7ac8"/>
<text x="774" y="1313">CD40</text>
<path d="M870,1288 L905,1288 L920,1304 L905,1320 L870,1320 L885,1304z" fill="#7b2fa6" stroke="#222"/><path d="M920,1304 L1000,1304" stroke="#000" stroke-width="2"/>
<text x="1018" y="1313">CD40L</text>
<path d="M1143,1290 L1155,1290 L1155,1282 L1200,1282 L1200,1290 L1213,1290 L1213,1312 L1200,1312 L1200,1320 L1155,1320 L1155,1312 L1143,1312z" fill="#1a8ccc"/>
<text x="1236" y="1308">APRIL</text>
<path d="M1353,1276 L1368,1276 L1368,1322 L1353,1322 M1368,1299 L1400,1299" fill="none" stroke="#19c86a" stroke-width="3"/>
<text x="1452" y="1308">BCMA</text>

<path d="M117,1366 L197,1366 L197,1357 L222,1377 L197,1397 L197,1388 L117,1388z" fill="#f27ec4" stroke="#a03070"/>
<text x="237" y="1386">CD54</text>
<path d="M340,1361 L375,1361 L390,1377 L375,1393 L340,1393 L355,1377z" fill="#f27ec4" stroke="#333"/><path d="M390,1377 L468,1377" stroke="#000" stroke-width="2"/>
<text x="484" y="1386">CD11a/18</text>
<path d="M655,1365 L738,1365 L738,1356 L760,1377 L738,1398 L738,1389 L655,1389z" fill="#1aa3e6" stroke="#1a7ac8"/>
<text x="774" y="1386">CD80</text>
<path d="M870,1361 L905,1361 L920,1377 L905,1393 L870,1393 L885,1377z" fill="#1aa3e6" stroke="#222"/><path d="M920,1377 L1000,1377" stroke="#000" stroke-width="2"/>
<text x="1018" y="1386">CD28</text>
<path d="M1143,1393 L1185,1390 M1208,1357 C1192,1365 1192,1400 1208,1410" fill="none" stroke="#2ab8c4" stroke-width="3"/>
<text x="1242" y="1386">TRKA</text>
<path d="M1355,1376 L1395,1376 M1395,1365 C1410,1360 1425,1360 1440,1363 C1428,1372 1430,1385 1440,1398 C1420,1398 1405,1392 1395,1385z" fill="#1a8ccc" stroke="#1a8ccc" stroke-width="2"/>
<text x="1455" y="1391">IL3 R</text>

<path d="M117,1451 L197,1451 L197,1442 L224,1462 L197,1482 L197,1473 L117,1473z" fill="#e81010" stroke="#a00"/>
<text x="235" y="1471">CD30</text>
<path d="M340,1446 L375,1446 L390,1462 L375,1478 L340,1478 L355,1462z" fill="#3ee88a" stroke="#1a7a4a"/><path d="M390,1462 L465,1462" stroke="#000" stroke-width="2"/>
<text x="484" y="1471">CD30L</text>
<rect x="654" y="1442" width="102" height="15" fill="#19a648" stroke="#0b6a8a"/>
<rect x="654" y="1467" width="102" height="15" fill="#19a648" stroke="#0b6a8a"/>
<text x="774" y="1471">PD-1</text>
<path d="M870,1437 L897,1437 L897,1490 L870,1493 M897,1467 L993,1467" fill="none" stroke="#1a2f6e" stroke-width="3.5"/>
<text x="1020" y="1471">PD-1L</text>
<path d="M1143,1462 L1195,1462 M1220,1432 L1195,1462 L1220,1490" fill="none" stroke="#000" stroke-width="2"/>
<text x="1242" y="1471">KLA-G</text>
</g>
</svg>
</body></html>
